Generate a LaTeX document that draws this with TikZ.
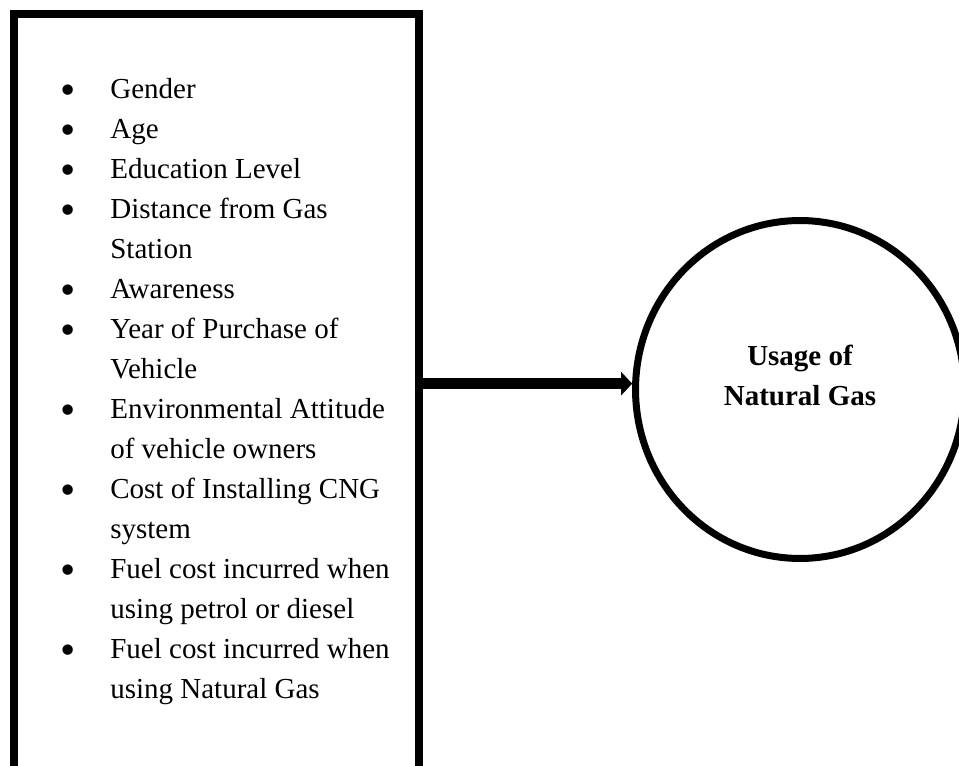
\documentclass[tikz,border=0pt]{standalone}
\usepackage{fontspec}
\setmainfont{Liberation Serif}
\usetikzlibrary{arrows.meta,shapes.geometric}
\newcommand{\itembullet}{\raisebox{-3.4pt}{\scalebox{1.5}{\textbullet}}}

\begin{document}
\begin{tikzpicture}[
    x=0.02cm, y=-0.02cm,
    factorbox/.style={rectangle, draw, line width=0.16cm, minimum width=8.1cm, minimum height=15.52cm, inner sep=0},
    outcome/.style={ellipse, draw, line width=0.14cm, minimum width=6.58cm, minimum height=6.76cm, inner sep=0},
    itemlist/.style={anchor=base west, inner sep=0, font=\fontsize{16.5pt}{22.76pt}\selectfont},
    outcometext/.style={align=center, inner sep=0, font=\fontsize{16.5pt}{22.76pt}\selectfont\bfseries},
    arrow/.style={-{Triangle[length=0.22cm, width=0.46cm]}, line width=0.21cm}
]
\useasboundingbox (0,0) rectangle (959,766);

% Factors
\node[factorbox] (factors) at (216.5,402) {};
\node[itemlist] (items) at (60,99) {%
  \begin{tabular}[t]{@{}p{1cm}@{}l@{}}
  \itembullet & Gender\\
  \itembullet & Age\\
  \itembullet & Education Level\\
  \itembullet & Distance from Gas\\
              & Station\\
  \itembullet & Awareness\\
  \itembullet & Year of Purchase of\\
              & Vehicle\\
  \itembullet & Environmental Attitude\\
              & of vehicle owners\\
  \itembullet & Cost of Installing CNG\\
              & system\\
  \itembullet & Fuel cost incurred when\\
              & using petrol or diesel\\
  \itembullet & Fuel cost incurred when\\
              & using Natural Gas
  \end{tabular}};

% Outcome
\node[outcome] (usage) at (800,389.5) {};
\node[outcometext] (usagetext) at (800,375) {Usage of\\Natural Gas};

% Connection
\draw[arrow] (factors.east |- usage.178) -- (usage.178);

\end{tikzpicture}
\end{document}
